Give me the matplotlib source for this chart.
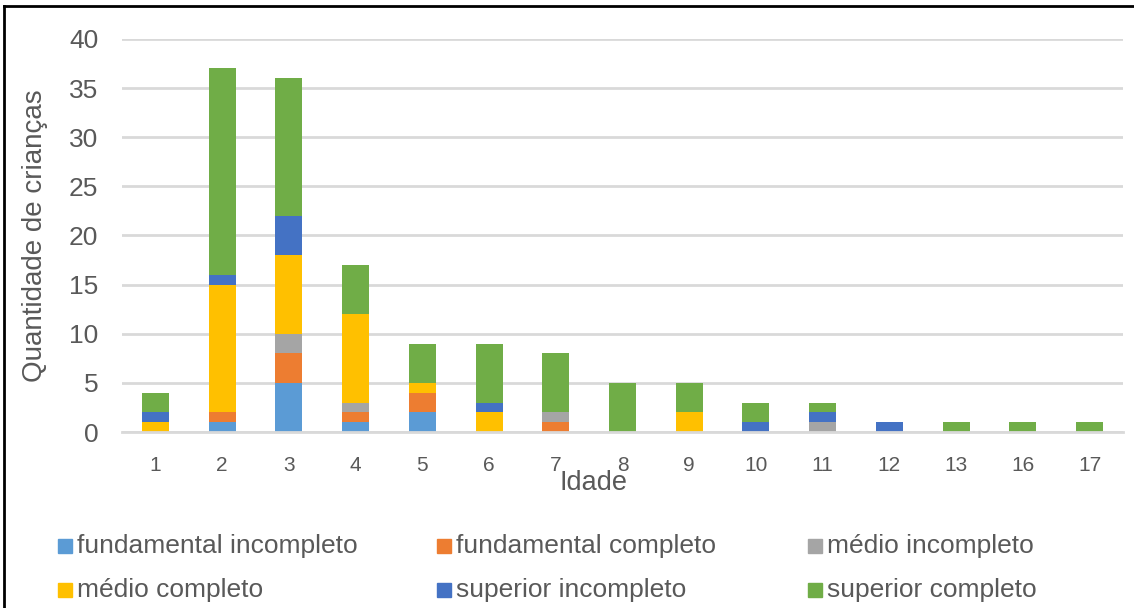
import matplotlib
matplotlib.use("Agg")
import matplotlib.pyplot as plt
from matplotlib.patches import Rectangle
from matplotlib.lines import Line2D
import numpy as np

plt.rcParams['font.family'] = ['Liberation Sans', 'DejaVu Sans']

ages = ["1", "2", "3", "4", "5", "6", "7", "8", "9", "10", "11", "12", "13", "16", "17"]

fundamental_incompleto = [0, 1, 5, 1, 2, 0, 0, 0, 0, 0, 0, 0, 0, 0, 0]
fundamental_completo   = [0, 1, 3, 1, 2, 0, 1, 0, 0, 0, 0, 0, 0, 0, 0]
medio_incompleto       = [0, 0, 2, 1, 0, 0, 1, 0, 0, 0, 1, 0, 0, 0, 0]
medio_completo         = [1, 13, 8, 9, 1, 2, 0, 0, 2, 0, 0, 0, 0, 0, 0]
superior_incompleto    = [1, 1, 4, 0, 0, 1, 0, 0, 0, 1, 1, 1, 0, 0, 0]
superior_completo      = [2, 21, 14, 5, 4, 6, 6, 5, 3, 2, 1, 0, 1, 1, 1]

series_names = ["fundamental incompleto", "fundamental completo", "médio incompleto",
                "médio completo", "superior incompleto", "superior completo"]
series_values = [fundamental_incompleto, fundamental_completo, medio_incompleto,
                 medio_completo, superior_incompleto, superior_completo]
colors = ["#5B9BD5", "#ED7D31", "#A5A5A5", "#FFC000", "#4472C4", "#70AD47"]

W, H = 1134, 608
fig = plt.figure(figsize=(W / 100, H / 100), dpi=100)
ax = fig.add_axes([122 / W, 1 - 432 / H, (1123 - 122) / W, (432 - 39) / H])

x = np.arange(len(ages))
bottom = np.zeros(len(ages))
for name, vals, c in zip(series_names, series_values, colors):
    vals = np.array(vals, dtype=float)
    ax.bar(x, vals, bottom=bottom, width=0.405, color=c, label=name, zorder=3)
    bottom += vals

ax.set_xlim(-0.5, len(ages) - 0.5)
ax.set_ylim(0, 40)
ax.set_yticks(range(0, 41, 5))
ax.set_xticks(x)
ax.set_xticklabels(ages)
ax.tick_params(axis='y', length=0, pad=17, labelsize=19, labelcolor="#595959")
ax.tick_params(axis='x', length=0, pad=17, labelsize=15, labelcolor="#595959")
ax.grid(axis='y', color="#D9D9D9", linewidth=2, zorder=0)
for side in ["top", "right", "left"]:
    ax.spines[side].set_visible(False)
ax.spines["bottom"].set_color("#D9D9D9")
ax.spines["bottom"].set_linewidth(2)
ax.spines["bottom"].set_zorder(4)

fig.text(35 / W, 1 - 236 / H, "Quantidade de crianças", rotation=90, ha="center", va="center",
         fontsize=20, color="#595959")
fig.text(593 / W, 1 - 483 / H, "Idade", ha="center", va="center", fontsize=19.5, color="#595959")

# legend laid out in a 3x2 grid
col_x = [58, 437, 808]
row_y = [546, 590]
sq = 14
for i, (name, c) in enumerate(zip(series_names, colors)):
    cx = col_x[i % 3]
    cy = row_y[i // 3]
    fig.patches.append(Rectangle(((cx) / W, 1 - (cy + sq / 2) / H), sq / W, sq / H,
                                 transform=fig.transFigure, color=c))
    fig.text((cx + sq + 5) / W, 1 - cy / H, name, ha="left", va="center",
             fontsize=19, color="#595959")

# chart frame
fig.lines.append(Line2D([3.5 / W, 1.0], [1 - 6 / H, 1 - 6 / H], transform=fig.transFigure,
                        color="black", linewidth=2))
fig.lines.append(Line2D([3.5 / W, 3.5 / W], [0, 1 - 6 / H], transform=fig.transFigure,
                        color="black", linewidth=2))

fig.savefig("out.png", dpi=100)
